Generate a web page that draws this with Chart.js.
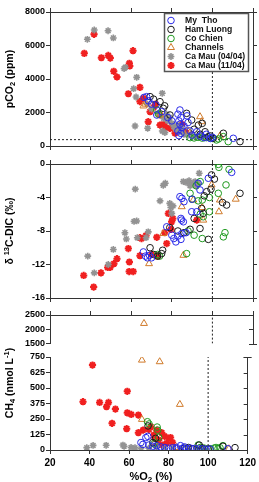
<!DOCTYPE html>
<html>
<head>
<meta charset="utf-8">
<script src="https://cdn.jsdelivr.net/npm/chart.js@4.4.1/dist/chart.umd.min.js"></script>
<style>
  html, body { margin: 0; padding: 0; background: #fff; }
  body { width: 259px; height: 482px; position: relative; overflow: hidden; }
  canvas { position: absolute; left: 0; }
</style>
</head>
<body>
<canvas id="co2" width="259" height="156" style="top:0px"></canvas>
<canvas id="d13c" width="259" height="149" style="top:156px"></canvas>
<canvas id="ch4lo" width="259" height="182" style="top:300px"></canvas>
<canvas id="ch4hi" width="259" height="50" style="top:300px"></canvas>
<script>
// ---- data: [%O2, value] ----
const myThoCO2 = [[66.3,2900],[67.6,2945],[68.5,2700],[70,2500],[72.2,2450],[72.6,1850],[75,2050],[84,2150],[83,1900],[84.5,1700],[83.5,1500],[84,1300],[85,1100],[83,900],[84.5,750],[83.5,620],[86,1200],[87.5,1800],[88,1400],[89,900],[90,650],[92.3,850],[94,600],[96,500],[97,700],[99,450],[100,520],[110.3,460],[80,1500],[78,1700]];
const hamLuongCO2 = [[69.3,2945],[71,2800],[74.2,2645],[75.8,2250],[76.5,2400],[79.1,1850],[87.3,1950],[89.8,1550],[93.1,1250],[95,1350],[96.4,850],[98,555],[100.4,460],[99,600],[105.4,760],[113.6,260],[91,1000],[94,700]];
const coChienCO2 = [[72.6,2150],[73.5,1900],[89,500],[91,480],[93,520],[95,470],[97,500],[102,360],[103,420],[105.4,560],[107.8,260],[100,450]];
const channelsCO2 = [[66,2390],[67,2500],[74.2,1850],[93.9,1750],[94.7,1450],[103.7,600],[88,900]];
const caMau04CO2 = [[38.4,6370],[41.8,6925],[48.6,6880],[51.2,6450],[56.5,4620],[57.1,4700],[62.7,4100],[61.2,3420],[62.4,2925],[61.9,1195],[68.1,1060],[75.3,3145],[75.3,900],[76.6,800],[68,2500],[70,2200],[73,1950],[76,1650],[77.5,1900],[78,1500],[79,1700],[80,1350],[81,1150],[82,1000],[84,850],[86,700],[88,650],[90,600],[92,550],[94,650],[96,500],[98,480],[85,1050],[83,1250]];
const caMau11CO2 = [[36.9,5530],[41.7,6670],[45.3,5270],[48.7,5410],[49.7,5250],[51.4,4460],[53,4120],[60.9,5690],[59.1,4940],[59.3,4780],[58.6,3120],[64.3,3500],[64.3,2650],[66,2850],[69.3,2050],[68.4,1450],[71,2300],[72,2500],[74.2,1850],[74.2,1250],[76,1300],[77,1100],[79.1,1050],[80,1200],[81.6,760],[83,1000],[85,1300],[87,800]];

const myThoC = [[66,-10.5],[67,-11],[68,-11.2],[69,-10.9],[70,-11.2],[80,-8.5],[81,-8.9],[82,-9.3],[83,-8.6],[84.5,-9],[85,-8.3],[84,-3.9],[85,-4.1],[86,-4.5],[84.5,-6.5],[85.7,-6.9],[84.8,-6.7],[89.8,-5.7],[92.3,-5.7],[93.9,-3.1],[93,-2.3],[98,-1.7],[109.5,-1],[77.5,-7.5],[87,-8.2],[90,-4.2]];
const hamLuongC = [[69.3,-10],[71,-10.8],[73,-11],[75,-10.7],[75.5,-10.3],[79,-7.6],[83,-8],[86,-8.2],[89,-7.8],[93.9,-7.7],[98,-9],[94.7,-5.3],[95.5,-5.9],[97.2,-3.3],[99.6,-1.3],[99.3,-3.0],[101,-1.8],[105,-4.6],[107,-4.9],[113.6,-3.5],[91,-6.5],[96,-3.8]];
const coChienC = [[102.9,-0.05],[103.2,-0.4],[108.2,-0.65],[106.7,-2.5],[102.9,-3.5],[89,-3.5],[90,-4.2],[93,-4.4],[95,-4.3],[98.5,-4.0],[98.5,-5.7],[94,-6],[95.5,-6.3],[88,-8],[91,-8.5],[95,-8.9],[105.4,-8.7],[106.2,-8.2],[87.3,-10.7],[73,-10.8],[74,-11],[92,-2.6],[94,-2.1]];
const channelsC = [[84.9,-5.1],[90.6,-4.3],[95.5,-6.7],[99.6,-2.5],[103.7,-4.3],[103.2,-5.7],[111.5,-4.2],[68.8,-11.9],[85.7,-10.9],[75.8,-8.3],[95,-5.2]];
const caMau04C = [[62,-3.0],[61.4,-6.85],[62.7,-6.8],[56.9,-8.2],[57.6,-8.95],[63,-8.8],[51.2,-10.2],[38.6,-11],[48.7,-12],[41.8,-13],[67.3,-8.8],[68.4,-8.1],[74.2,-4.4],[75.8,-2.55],[76.8,-2.3],[79,-4.7],[79.5,-5.2],[80,-5.9],[80.6,-5.0],[85.7,-2.1],[87,-2.2],[88.5,-2.0],[90,-2.35],[91.5,-2.1],[93,-2.3],[93.5,-1.1],[89,-2.6],[92,-2.6]];
const caMau11C = [[36.6,-13.3],[41.5,-14.7],[45.1,-13],[48.4,-12.35],[49.6,-12.35],[51.5,-11.9],[53,-11.3],[58.6,-10.1],[59.1,-11.7],[59,-12.85],[61,-12.85],[64.3,-8.8],[64.3,-10.95],[65.1,-8.9],[67.3,-8.55],[72.6,-8.75],[76.5,-8.2],[77.5,-9.5],[78.3,-5.9],[79.9,-6.9],[79.6,-7.8],[80.5,-6.5],[92.3,-6.7],[70,-10.8],[73,-11.0]];

const myThoCH4 = [[66,60],[67,45],[68.5,100],[69.5,110],[70,40],[72,30],[74,35],[76,25],[78,20],[80,15],[82,18],[84,20],[86,35],[87,12],[89,10],[91,15],[93,12],[95,8],[97,10],[99,6],[101,8],[110,10],[84,10],[88,25]];
const hamLuongCH4 = [[69.6,194],[73.4,94],[72,60],[88,15],[92,10],[95.5,40],[97,15],[100,8],[107.5,30],[113.6,19],[90,20]];
const coChienCH4 = [[69.3,228],[70.1,210],[74.2,185],[74.5,160],[75,102],[72.5,50],[101,10],[103,15],[104,20],[105,12],[106,18],[107.5,35],[95,40],[96,20],[98,15]];
const channelsCH4 = [[66.3,2205],[66.5,725],[75.5,712],[85.7,368],[66.5,247],[73,60],[84,20],[110.5,10]];
const caMau04CH4 = [[38.6,19],[41.8,37],[48.4,38],[56.9,40],[57.5,30],[61,20],[63,18],[70,15],[74,20],[78,10],[82,12],[86,8],[90,15],[94,10],[97,12],[66,10]];
const caMau11CH4 = [[41.5,685],[36.7,390],[45.1,384],[49.6,384],[48.6,349],[53.1,330],[51.4,215],[59.1,473],[59.1,300],[61.1,287],[58.8,172],[64.7,282],[64.7,140],[67.1,161],[70,165],[71,188],[72.5,120],[74,160],[75,80],[76.5,140],[78,110],[80,94],[79,54],[81,100],[82,60],[73,100],[77,40]];

const o2Ref = 100;     // vertical dashed line
const atmCO2 = 380;    // horizontal dashed line

const FONT = '"Liberation Sans", Arial, sans-serif';
const AXIS = '#333';

const series = [
  { label: 'My  Tho',        color: '#2a2ae8', style: 'circle',   r: 3.3, bw: 1,   fill: 'rgba(0,0,0,0)' },
  { label: 'Ham Luong',      color: '#1a1a1a', style: 'circle',   r: 3.3, bw: 1,   fill: 'rgba(0,0,0,0)' },
  { label: 'Co Chien',       color: '#1f9a1f', style: 'circle',   r: 3.3, bw: 1,   fill: 'rgba(0,0,0,0)' },
  { label: 'Channels',       color: '#d07a2a', style: 'triangle', r: 4,   bw: 1,   fill: 'rgba(0,0,0,0)' },
  { label: 'Ca Mau (04/04)', color: '#939393', style: 'star',     r: 3.4, bw: 1.6, fill: 'rgba(0,0,0,0)' },
  { label: 'Ca Mau (11/04)', color: '#f02020', style: 'star',     r: 3.6, bw: 2,   fill: 'rgba(0,0,0,0)' },
];

function makeSets(arrays, refLine) {
  const sets = arrays.map((arr, i) => {
    const s = series[i];
    return {
      label: s.label,
      data: arr.map(p => ({ x: p[0], y: p[1] })),
      pointStyle: s.style, pointRadius: s.r, pointBorderWidth: s.bw,
      borderColor: s.color, backgroundColor: s.fill, showLine: false,
    };
  });
  refLine.forEach(l => sets.push({
    data: l, showLine: true, borderColor: '#222', borderWidth: 1,
    borderDash: [2, 2], pointRadius: 0, fill: false,
  }));
  return sets;
}

const plain = v => String(v);
const gridCfg = { drawOnChartArea: false, drawTicks: true, tickLength: 4, color: AXIS };
const borderCfg = { display: true, color: AXIS, width: 1 };
const tickFont = { family: FONT, size: 9, weight: 'bold' };

function xScale(labels, height) {
  return {
    type: 'linear', position: 'bottom', min: 20, max: 120,
    ticks: { stepSize: 20, display: labels, color: '#000', padding: 3, callback: plain,
             font: { family: FONT, size: 10, weight: 'bold' } },
    grid: gridCfg, border: borderCfg,
    afterFit: s => { s.height = height; },
  };
}
function xTop() {
  return {
    type: 'linear', position: 'top', min: 20, max: 120,
    ticks: { stepSize: 20, display: false }, grid: gridCfg, border: borderCfg,
    afterFit: s => { s.height = 4; },
  };
}
function yScale(min, max, step) {
  return {
    type: 'linear', position: 'left', min: min, max: max,
    ticks: { stepSize: step, color: '#000', padding: 1, font: tickFont, callback: plain },
    grid: gridCfg, border: borderCfg,
    afterFit: s => { s.width = 50; },
  };
}
function yRight(min, max, step, outward) {
  return {
    type: 'linear', position: 'right', min: min, max: max,
    ticks: { stepSize: step, display: false },
    grid: outward ? gridCfg : { display: false },
    border: borderCfg,
    afterFit: s => { s.width = 4; },
  };
}

// text with sub/superscripts
function drawRuns(ctx, runs, cx, cy, rotate) {
  ctx.save();
  ctx.translate(cx, cy);
  if (rotate) ctx.rotate(-Math.PI / 2);
  ctx.fillStyle = '#000';
  ctx.textBaseline = 'middle';
  ctx.textAlign = 'left';
  let w = 0;
  runs.forEach(r => { ctx.font = 'bold ' + r.size + 'px ' + FONT; w += ctx.measureText(r.t).width; });
  let x = -w / 2;
  runs.forEach(r => {
    ctx.font = 'bold ' + r.size + 'px ' + FONT;
    ctx.fillText(r.t, x, r.dy || 0);
    x += ctx.measureText(r.t).width;
  });
  ctx.restore();
}

const titlePlugin = {
  id: 'titles',
  afterDraw(chart, args, opts) {
    (opts.items || []).forEach(it => drawRuns(chart.ctx, it.runs, it.x, it.y, it.rotate));
  }
};

const legendPlugin = {
  id: 'inlegend',
  afterDraw(chart, args, opts) {
    if (!opts.show) return;
    const ctx = chart.ctx;
    ctx.save();
    ctx.fillStyle = '#fff';
    ctx.fillRect(164, 13, 85, 59);
    ctx.strokeStyle = '#555';
    ctx.lineWidth = 1.5;
    ctx.strokeRect(164.5, 13.5, 84, 58);
    series.forEach((s, i) => {
      const y = 20.5 + i * 9;
      ctx.strokeStyle = s.color;
      ctx.fillStyle = s.fill;
      ctx.lineWidth = s.bw;
      Chart.helpers.drawPoint(ctx, { pointStyle: s.style, radius: s.r, borderWidth: s.bw, rotation: 0 }, 171, y);
      ctx.fillStyle = '#111';
      ctx.font = 'bold 8.6px ' + FONT;
      ctx.textBaseline = 'middle';
      ctx.fillText(s.label, 185, y);
    });
    ctx.restore();
  }
};

// inward ticks on the right axis of the broken CH4 panel, plus break caps
const rightInward = {
  id: 'rin',
  afterDraw(chart, args, opts) {
    if (!opts.cap) return;
    const ctx = chart.ctx, area = chart.chartArea, y = chart.scales.y;
    ctx.save();
    ctx.strokeStyle = AXIS;
    ctx.lineWidth = 1;
    ctx.beginPath();
    y.ticks.forEach(t => {
      const py = Math.round(y.getPixelForValue(t.value)) + 0.5;
      ctx.moveTo(area.right - 4, py);
      ctx.lineTo(area.right, py);
    });
    const cy = Math.round(opts.cap === 'bottom' ? area.bottom : area.top) + 0.5;
    ctx.moveTo(area.right - 4, cy);
    ctx.lineTo(area.right + 4, cy);
    ctx.stroke();
    ctx.restore();
  }
};

Chart.register(titlePlugin, legendPlugin, rightInward);

function baseOptions(scales, padding, plugins) {
  return {
    responsive: false, animation: false, devicePixelRatio: 1,
    layout: { padding: padding },
    scales: scales,
    plugins: Object.assign({ legend: { display: false }, tooltip: { enabled: false } }, plugins),
  };
}

// ---- panel 1: pCO2 ----
new Chart(document.getElementById('co2'), {
  type: 'scatter',
  data: { datasets: makeSets([myThoCO2, hamLuongCO2, coChienCO2, channelsCO2, caMau04CO2, caMau11CO2], [
    [{ x: o2Ref, y: 0 }, { x: o2Ref, y: 8000 }],
    [{ x: 20, y: atmCO2 }, { x: 120, y: atmCO2 }],
  ]) },
  options: baseOptions(
    { x: xScale(false, 4), x2: xTop(), y: yScale(0, 8000, 2000), y2: yRight(0, 8000, 2000, true) },
    { left: 0, right: 2, top: 8, bottom: 6 },
    { inlegend: { show: true },
      titles: { items: [{ rotate: true, x: 10, y: 79, runs: [
        { t: 'pCO', size: 10.5 }, { t: '2', size: 7.5, dy: 3 }, { t: ' (ppm)', size: 10.5 }] }] } }
  )
});

// ---- panel 2: d13C-DIC ----
new Chart(document.getElementById('d13c'), {
  type: 'scatter',
  data: { datasets: makeSets([myThoC, hamLuongC, coChienC, channelsC, caMau04C, caMau11C], [
    [{ x: o2Ref, y: -16 }, { x: o2Ref, y: 0 }],
  ]) },
  options: baseOptions(
    { x: xScale(false, 4), x2: xTop(), y: yScale(-16, 0, 4), y2: yRight(-16, 0, 4, true) },
    { left: 0, right: 2, top: 4, bottom: 3 },
    { titles: { items: [{ rotate: true, x: 10, y: 75, runs: [
        { t: 'δ ', size: 10.5 }, { t: '13', size: 7.5, dy: -3 }, { t: 'C-DIC (‰)', size: 10.5 }] }] } }
  )
});

// ---- panel 3 lower: CH4 0-750 ----
new Chart(document.getElementById('ch4lo'), {
  type: 'scatter',
  data: { datasets: makeSets([myThoCH4, hamLuongCH4, coChienCH4, channelsCH4, caMau04CH4, caMau11CH4], [
    [{ x: o2Ref, y: 0 }, { x: o2Ref, y: 750 }],
  ]) },
  options: baseOptions(
    { x: xScale(true, 32), y: yScale(0, 750, 125), y2: yRight(0, 750, 125, false) },
    { left: 0, right: 2, top: 57, bottom: 0 },
    { rin: { cap: 'top' },
      titles: { items: [
        { rotate: true, x: 10, y: 83, runs: [
          { t: 'CH', size: 10.5 }, { t: '4', size: 7.5, dy: 3 }, { t: ' (nmol L', size: 10.5 },
          { t: '-1', size: 7.5, dy: -3 }, { t: ')', size: 10.5 }] },
        { rotate: false, x: 151, y: 177, runs: [
          { t: '%O', size: 11 }, { t: '2', size: 8, dy: 3 }, { t: ' (%)', size: 11 }] },
      ] } }
  )
});

// ---- panel 3 upper: CH4 1500-2500 ----
new Chart(document.getElementById('ch4hi'), {
  type: 'scatter',
  data: { datasets: makeSets([myThoCH4, hamLuongCH4, coChienCH4, channelsCH4, caMau04CH4, caMau11CH4], [
    [{ x: o2Ref, y: 1500 }, { x: o2Ref, y: 2500 }],
  ]) },
  options: baseOptions(
    { x: Object.assign(xScale(false, 0), { display: false }), x2: xTop(),
      y: yScale(1500, 2500, 500), y2: yRight(1500, 2500, 500, false) },
    { left: 0, right: 2, top: 11, bottom: 3 },
    { rin: { cap: 'bottom' } }
  )
});
</script>
</body>
</html>
